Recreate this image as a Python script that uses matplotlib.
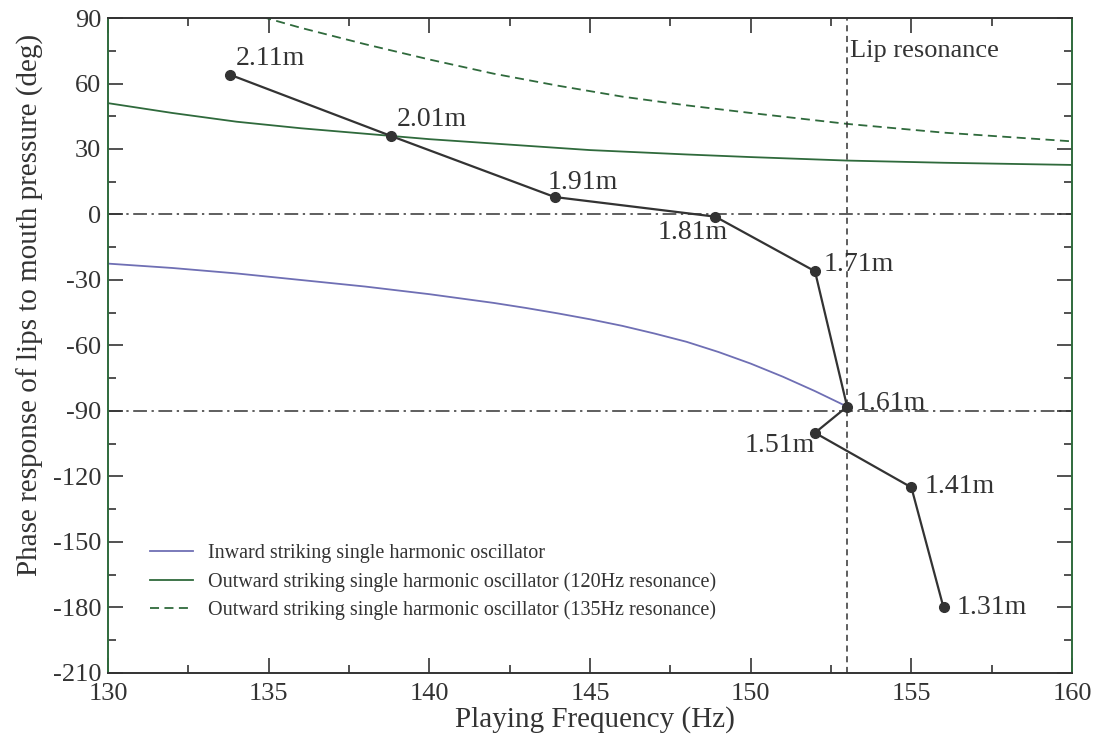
import matplotlib.pyplot as plt
import numpy as np

plt.rcParams['font.family'] = ['Liberation Serif', 'DejaVu Serif']
plt.rcParams['axes.unicode_minus'] = False

# measured playing points (frequency Hz, phase deg) and tube lengths
lengths = ["2.11m", "2.01m", "1.91m", "1.81m", "1.71m", "1.61m", "1.51m", "1.41m", "1.31m"]
freq = [133.8, 138.8, 143.9, 148.9, 152.0, 153.0, 152.0, 155.0, 156.0]
phase = [64, 36, 8, -1, -26, -88, -100, -125, -180]

# inward striking oscillator
inward_f = [130, 132, 134, 136, 138, 140, 142, 143, 144, 145, 146, 147, 148, 149, 150, 151, 152, 153]
inward_p = [-22.5, -24.5, -27, -30, -33, -36.5, -40.5, -42.8, -45.3, -48, -51, -54.5, -58.3, -63, -68.3, -74.3, -80.9, -88]

# outward striking, 120 Hz resonance
out120_f = [130, 132, 134, 136, 138, 140, 142, 145, 148, 150, 153, 156, 160]
out120_p = [51, 46.5, 42.5, 39.5, 37, 34.5, 32.5, 29.5, 27.5, 26.3, 24.7, 23.7, 22.7]

# outward striking, 135 Hz resonance
out135_f = [134.8, 136, 138, 140, 142, 144, 146, 148, 150, 153, 156, 160]
out135_p = [90.5, 85.5, 78, 71, 64.5, 59, 54, 50, 46.5, 41.5, 37.5, 33.5]

lip_res = 153.0

# label offsets in pixels (dx, dy, ha)
label_pos = {
    "2.11m": (6, 16, 'left'), "2.01m": (6, 16, 'left'), "1.91m": (-7, 15, 'left'),
    "1.81m": (12, -16, 'right'), "1.71m": (9, 7, 'left'), "1.61m": (8, 3, 'left'),
    "1.51m": (0, -13, 'right'), "1.41m": (13, 1, 'left'), "1.31m": (13, 0, 'left'),
}

fig = plt.figure(figsize=(11.06, 7.35), dpi=100)
ax = fig.add_axes([0.0977, 0.0844, 0.8716, 0.8911])

blue = '#6f6fb4'
green = '#2f6a3c'
dark = '#333333'

ax.plot(inward_f, inward_p, color=blue, lw=1.3, label='Inward striking single harmonic oscillator')
ax.plot(out120_f, out120_p, color=green, lw=1.3,
        label='Outward striking single harmonic oscillator (120Hz resonance)')
ax.plot(out135_f, out135_p, color=green, lw=1.3, ls=(0, (5, 3)),
        label='Outward striking single harmonic oscillator (135Hz resonance)')

ax.axhline(0, color=dark, lw=1.1, ls=(0, (9, 3, 1.5, 3)))
ax.axhline(-90, color=dark, lw=1.1, ls=(0, (9, 3, 1.5, 3)))
ax.axvline(lip_res, color=dark, lw=1.1, ls=(0, (4, 3)))
ax.text(lip_res + 0.1, 75, 'Lip resonance', fontsize=19, color=dark, va='center', ha='left')

ax.plot(freq, phase, color=dark, lw=1.6, marker='o', ms=7, zorder=5)
for f, p, name in zip(freq, phase, lengths):
    dx, dy, ha = label_pos[name]
    ax.annotate(name, (f, p), xytext=(dx, dy), textcoords='offset pixels',
                ha=ha, va='center', fontsize=20, color=dark)

ax.set_xlim(130, 160)
ax.set_ylim(-210, 90)
ax.set_xticks(np.arange(130, 161, 5))
ax.set_xticks(np.arange(130, 161, 2.5), minor=True)
ax.set_yticks(np.arange(-210, 91, 30))
ax.set_yticks(np.arange(-210, 91, 15), minor=True)
ax.tick_params(which='both', direction='in', top=True, right=True, labelsize=19, colors=dark)
ax.tick_params(which='major', length=11, width=1.2)
ax.tick_params(which='minor', length=6, width=1.2)
ax.tick_params(axis='x', pad=7)
ax.tick_params(axis='y', pad=5)

for side in ['top', 'bottom']:
    ax.spines[side].set_color(dark)
for side in ['left', 'right']:
    ax.spines[side].set_color(green)
for s in ax.spines.values():
    s.set_linewidth(1.4)

ax.set_xlabel('Playing Frequency (Hz)', fontsize=21, color=dark)
ax.xaxis.set_label_coords(0.505, -0.050)
ax.set_ylabel('Phase response of lips to mouth pressure (deg)', fontsize=21, color=dark)
ax.yaxis.set_label_coords(-0.066, 0.562)

ax.legend(loc='upper left', bbox_to_anchor=(0.025, 0.225), frameon=False, fontsize=14.5,
          handlelength=2.1, labelspacing=0.45, handletextpad=0.75, labelcolor=dark)

plt.savefig('out.png', dpi=100)
